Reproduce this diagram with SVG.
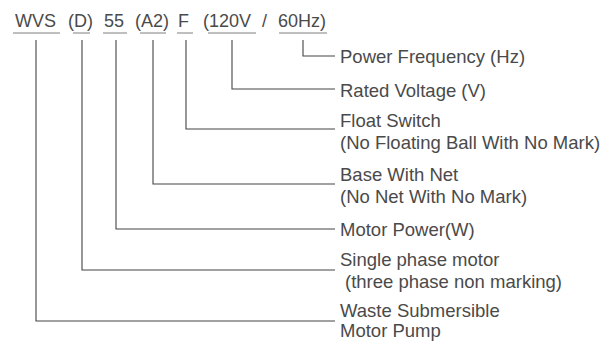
<svg xmlns="http://www.w3.org/2000/svg" width="614" height="341" viewBox="0 0 614 341">
<style>
.t{font-family:"Liberation Sans",Arial,sans-serif;font-size:18px;fill:#4a4a4a}
.l{font-family:"Liberation Sans",Arial,sans-serif;font-size:18.5px;fill:#4a4a4a}
.u{stroke:#808080;stroke-width:1.2;fill:none}
.c{stroke:#444;stroke-width:1.1;fill:none}
</style>
<rect width="614" height="341" fill="#fff"/>
<g id="code">
<text class="t" x="15" y="27">WVS</text>
<text class="t" x="68" y="27">(D)</text>
<text class="t" x="104" y="27">55</text>
<text class="t" x="135" y="27">(A2)</text>
<text class="t" x="178" y="27">F</text>
<text class="t" x="203" y="27">(120V</text>
<text class="t" x="262" y="27">/</text>
<text class="t" x="278" y="27">60Hz)</text>
<path class="u" d="M13 33H60M73 33H90M103 33H127M140 33H166M177 33H193M208 33H256M279 33H327"/>
</g>
<g id="connectors">
<path class="c" d="M303 40V56H335"/>
<path class="c" d="M232 40V89H335"/>
<path class="c" d="M186 40V129H335"/>
<path class="c" d="M153 40V184H335"/>
<path class="c" d="M116 40V229H335"/>
<path class="c" d="M82 40V270H335"/>
<path class="c" d="M36 40V321H335"/>
</g>
<g id="freq"><text class="l" x="340" y="63">Power Frequency (Hz)</text></g>
<g id="voltage"><text class="l" x="340" y="97">Rated Voltage (V)</text></g>
<g id="float"><text class="l" x="340" y="126.5">Float Switch</text><text class="l" x="340" y="148.5">(No Floating Ball With No Mark)</text></g>
<g id="base"><text class="l" x="340" y="181">Base With Net</text><text class="l" x="340" y="203">(No Net With No Mark)</text></g>
<g id="power"><text class="l" x="340" y="236">Motor Power(W)</text></g>
<g id="phase"><text class="l" x="340" y="266">Single phase motor</text><text class="l" x="345" y="288">(three phase non marking)</text></g>
<g id="pump"><text class="l" x="340" y="316.5">Waste Submersible</text><text class="l" x="340" y="337">Motor Pump</text></g>
</svg>
